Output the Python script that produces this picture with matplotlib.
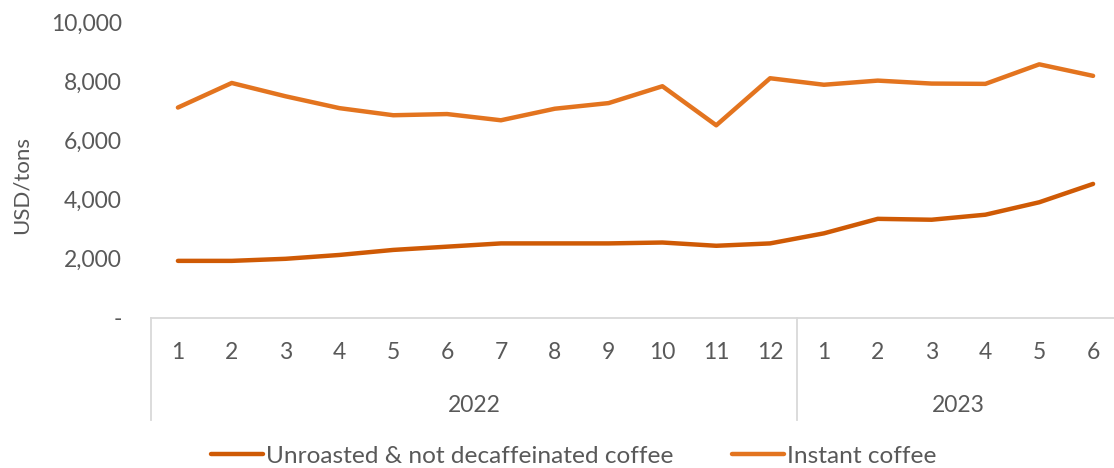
import matplotlib
matplotlib.use("Agg")
import matplotlib.pyplot as plt
import matplotlib.transforms as mtransforms
from matplotlib.ticker import FuncFormatter

plt.rcParams["font.family"] = ["Lato", "DejaVu Sans"]

# data
months = ["1", "2", "3", "4", "5", "6", "7", "8", "9", "10", "11", "12",
          "1", "2", "3", "4", "5", "6"]
years = ["2022", "2023"]
year_counts = [12, 6]
unroasted = [1930, 1930, 2000, 2130, 2300, 2410, 2520, 2520, 2520, 2550, 2440, 2520,
             2860, 3350, 3320, 3490, 3910, 4530]
instant = [7110, 7940, 7490, 7090, 6850, 6890, 6680, 7070, 7260, 7830, 6510, 8100,
           7880, 8020, 7920, 7910, 8570, 8180]

C_UNROASTED = "#CF5A05"
C_INSTANT = "#E3741F"
TXT = "#595959"
AXIS = "#D9D9D9"
FS = 16.5

fig = plt.figure(figsize=(11.14, 4.68), dpi=100)
ax = fig.add_axes([151 / 1114, 1 - 318 / 468, (1120 - 151) / 1114, (318 - 22) / 468])

x = list(range(len(months)))
ax.plot(x, unroasted, color=C_UNROASTED, lw=3.2, solid_capstyle="round",
        solid_joinstyle="round", label="Unroasted & not decaffeinated coffee")
ax.plot(x, instant, color=C_INSTANT, lw=3.2, solid_capstyle="round",
        solid_joinstyle="round", label="Instant coffee")

ax.set_xlim(-0.5, len(months) - 0.5)
ax.set_ylim(0, 10000)
ax.set_yticks(range(0, 10001, 2000))
ax.yaxis.set_major_formatter(FuncFormatter(lambda v, _: "-" if v == 0 else f"{v:,.0f}"))
ax.tick_params(axis="y", length=0, pad=21, labelsize=FS, labelcolor=TXT)
ax.set_ylabel("USD/tons", fontsize=16, color=TXT)
ax.yaxis.set_label_coords(-119 / 969, 0.45)

ax.set_xticks(x)
ax.set_xticklabels(months)
ax.tick_params(axis="x", length=0, pad=17, labelsize=FS, labelcolor=TXT)

for s in ("top", "right", "left"):
    ax.spines[s].set_visible(False)
ax.spines["bottom"].set_color(AXIS)
ax.spines["bottom"].set_linewidth(1.3)

# two-level category axis: year labels and separators
trans = mtransforms.blended_transform_factory(ax.transData, ax.transAxes)
sep_bottom = -(420 - 318) / (318 - 22)
year_y = -(405 - 318) / (318 - 22)
start = -0.5
bounds = [start]
for yr, n in zip(years, year_counts):
    ax.text(start + n / 2, year_y, yr, transform=trans, ha="center", va="center",
            fontsize=FS, color=TXT)
    start += n
    bounds.append(start)
for b in bounds:
    ax.plot([b, b], [0, sep_bottom], transform=trans, color=AXIS, lw=1.3, clip_on=False)

ax.legend(loc="center", bbox_to_anchor=(574 / 1114, 1 - 456 / 468),
          bbox_transform=fig.transFigure, ncol=2, frameon=False, fontsize=17.6,
          labelcolor=TXT, handlelength=2.1, handletextpad=0.15, columnspacing=2.4)

fig.savefig("out.png", dpi=100)
